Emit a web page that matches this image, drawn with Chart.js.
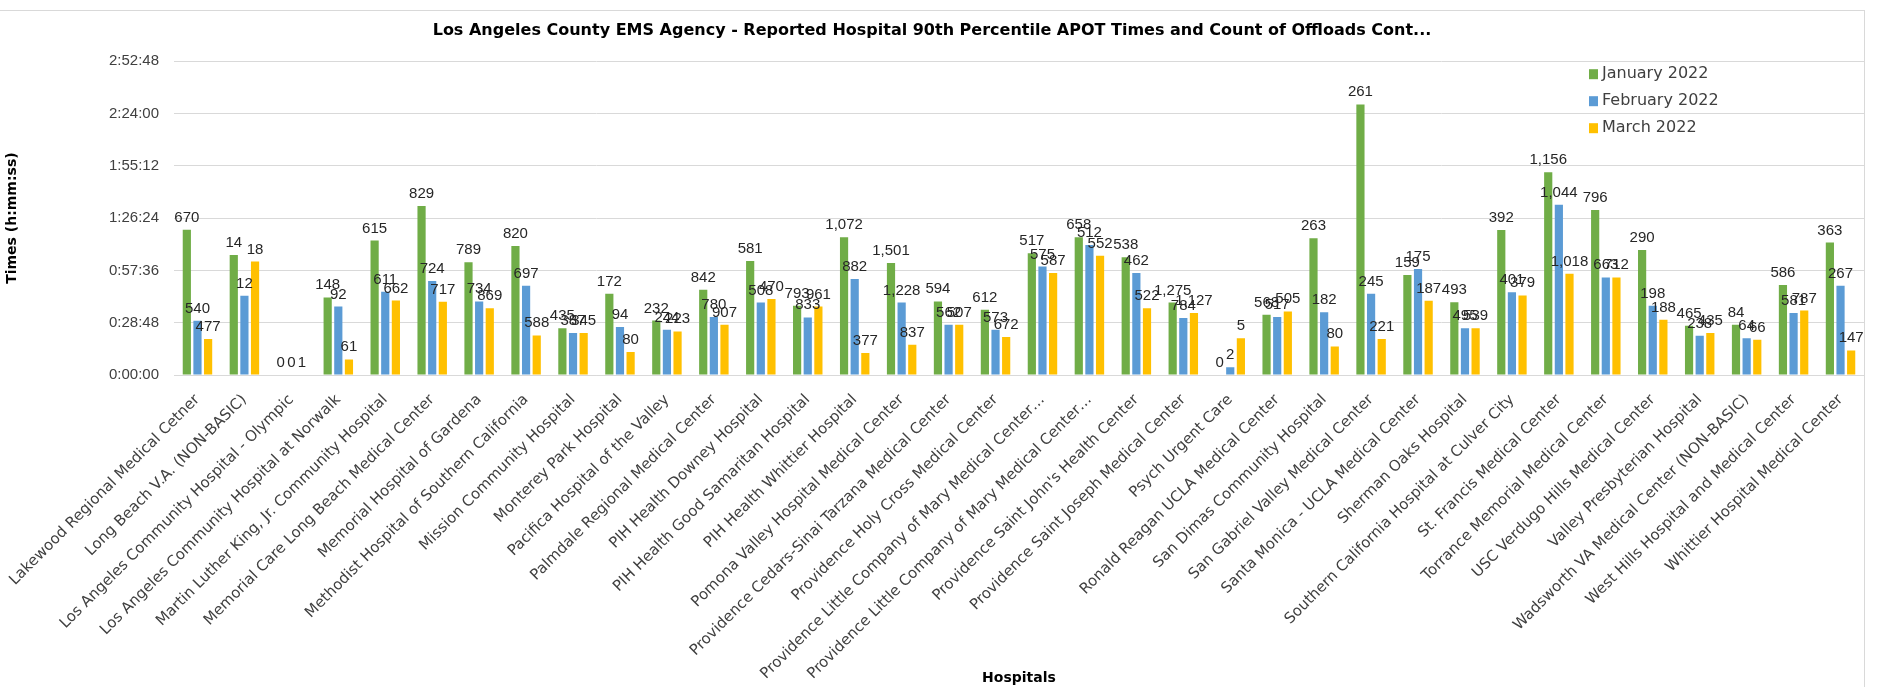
<!DOCTYPE html>
<html>
<head>
<meta charset="utf-8">
<script src="https://cdn.jsdelivr.net/npm/chart.js@4/dist/chart.umd.min.js"></script>
<style>
  html, body { margin: 0; padding: 0; background: #ffffff; overflow: hidden; }
  #frame { position: absolute; left: 0; top: 10px; width: 1864px; height: 676px;
           border-top: 1px solid #d9d9d9; border-right: 1px solid #d9d9d9; }
  canvas { display: block; }
</style>
</head>
<body>
<div id="frame"><canvas id="c" width="1864" height="676"></canvas></div>
<script>
// ---- Data (bar heights in minutes; labels are offload counts) ----
const hospitals = [
  "Lakewood Regional Medical Cetner",
  "Long Beach V.A. (NON-BASIC)",
  "Los Angeles Community Hospital - Olympic",
  "Los Angeles Community Hospital at Norwalk",
  "Martin Luther King, Jr. Community Hospital",
  "Memorial Care Long Beach Medical Center",
  "Memorial Hospital of Gardena",
  "Methodist Hospital of Southern California",
  "Mission Community Hospital",
  "Monterey Park Hospital",
  "Pacifica Hospital of the Valley",
  "Palmdale Regional Medical Center",
  "PIH Health Downey Hospital",
  "PIH Health Good Samaritan Hospital",
  "PIH Health Whittier Hospital",
  "Pomona Valley Hospital Medical Center",
  "Providence Cedars-Sinai Tarzana Medical Center",
  "Providence Holy Cross Medical Center",
  "Providence Little Company of Mary Medical Center…",
  "Providence Little Company of Mary Medical Center…",
  "Providence Saint John's Health Center",
  "Providence Saint Joseph Medical Center",
  "Psych Urgent Care",
  "Ronald Reagan UCLA Medical Center",
  "San Dimas Community Hospital",
  "San Gabriel Valley Medical Center",
  "Santa Monica - UCLA Medical Center",
  "Sherman Oaks Hospital",
  "Southern California Hospital at Culver City",
  "St. Francis Medical Center",
  "Torrance Memorial Medical Center",
  "USC Verdugo Hills Medical Center",
  "Valley Presbyterian Hospital",
  "Wadsworth VA Medical Center (NON-BASIC)",
  "West Hills Hospital and Medical Center",
  "Whittier Hospital Medical Center"
];

const seriesNames = ["January 2022", "February 2022", "March 2022"];

// 90th percentile APOT times, in minutes
const janTimes = [80.0, 66.1, 0, 42.7, 74.0, 93.1, 62.1, 71.1, 25.8, 44.7, 30.0, 46.9, 62.8, 38.1, 75.9, 61.7, 40.5, 35.9, 67.1, 75.9, 64.9, 39.9, 0, 33.2, 75.3, 149.0, 55.1, 40.1, 79.9, 111.6, 90.9, 68.9, 27.1, 27.7, 49.6, 72.9];
const febTimes = [29.9, 43.6, 0, 37.7, 45.8, 51.8, 40.5, 49.1, 23.1, 26.4, 24.9, 31.9, 39.9, 31.7, 52.9, 39.9, 27.7, 24.9, 59.7, 71.6, 56.1, 31.4, 4.2, 31.9, 34.6, 44.7, 58.4, 25.8, 45.6, 93.8, 53.7, 38.1, 21.6, 20.3, 34.1, 49.1];
const marTimes = [19.8, 62.5, 0, 8.6, 41.0, 40.3, 36.8, 21.8, 23.1, 12.6, 24.0, 27.7, 41.8, 37.7, 12.1, 16.7, 27.7, 20.9, 56.1, 65.6, 36.8, 34.1, 20.3, 35.0, 15.7, 19.8, 40.9, 25.8, 43.8, 55.7, 53.7, 30.4, 23.1, 19.4, 35.5, 13.5];

// Count of offloads (data labels)
const janCounts = [670, 14, 0, 148, 615, 829, 789, 820, 435, 172, 232, 842, 581, 793, 1072, 1501, 594, 612, 517, 658, 538, 1275, 0, 568, 263, 261, 159, 493, 392, 1156, 796, 290, 465, 84, 586, 363];
const febCounts = [540, 12, 0, 92, 611, 724, 734, 697, 387, 94, 244, 780, 508, 833, 882, 1228, 562, 573, 575, 512, 462, 784, 2, 517, 182, 245, 175, 495, 401, 1044, 663, 198, 238, 64, 581, 267];
const marCounts = [477, 18, 1, 61, 662, 717, 869, 588, 345, 80, 223, 907, 470, 961, 377, 837, 507, 672, 587, 552, 522, 1127, 5, 505, 80, 221, 187, 539, 379, 1018, 712, 188, 435, 66, 787, 147];

// y-axis ticks (minutes): 0:00:00 ... 2:52:48
const yTicksMinutes = [0, 28.8, 57.6, 86.4, 115.2, 144.0, 172.8];

const colors = ["#70AD47", "#5B9BD5", "#FFC000"];

function fmtTime(min) {
  const s = Math.round(min * 60);
  const h = Math.floor(s / 3600);
  const m = Math.floor((s % 3600) / 60);
  const sec = s % 60;
  return h + ":" + String(m).padStart(2, "0") + ":" + String(sec).padStart(2, "0");
}

const dataLabels = {
  id: "dataLabels",
  afterDatasetsDraw(chart) {
    const ctx = chart.ctx;
    ctx.save();
    ctx.font = "15px 'Liberation Sans', Arial, sans-serif";
    ctx.fillStyle = "#262626";
    ctx.textAlign = "center";
    ctx.textBaseline = "alphabetic";
    chart.data.datasets.forEach((ds, i) => {
      const meta = chart.getDatasetMeta(i);
      meta.data.forEach((bar, j) => {
        const v = ds.counts[j];
        ctx.fillText(v.toLocaleString("en-US"), bar.x, bar.y - 8);
      });
    });
    ctx.restore();
  }
};

const innerLegend = {
  id: "innerLegend",
  afterDraw(chart) {
    const ctx = chart.ctx;
    const a = chart.chartArea;
    const x0 = a.right - 275;
    const y0 = a.top + 13;
    ctx.save();
    ctx.font = "16px 'DejaVu Sans', sans-serif";
    ctx.textBaseline = "middle";
    ctx.textAlign = "left";
    chart.data.datasets.forEach((ds, i) => {
      const y = y0 + i * 27;
      ctx.fillStyle = ds.backgroundColor;
      ctx.fillRect(x0, y - 5, 9, 10);
      ctx.fillStyle = "#404040";
      ctx.fillText(ds.label, x0 + 13, y);
    });
    ctx.restore();
  }
};

const chart = new Chart(document.getElementById("c"), {
  type: "bar",
  data: {
    labels: hospitals,
    datasets: [
      { label: seriesNames[0], data: janTimes, counts: janCounts, backgroundColor: colors[0] },
      { label: seriesNames[1], data: febTimes, counts: febCounts, backgroundColor: colors[1] },
      { label: seriesNames[2], data: marTimes, counts: marCounts, backgroundColor: colors[2] }
    ]
  },
  options: {
    responsive: false,
    animation: false,
    devicePixelRatio: 1,
    layout: { padding: 0 },
    datasets: { bar: { categoryPercentage: 0.68, barPercentage: 0.77, borderWidth: 0 } },
    plugins: {
      legend: { display: false },
      tooltip: { enabled: false },
      title: {
        display: true,
        text: "Los Angeles County EMS Agency - Reported Hospital 90th Percentile APOT Times and Count of Offloads Cont...",
        color: "#000000",
        font: { family: "'DejaVu Sans', sans-serif", size: 16, weight: "bold", lineHeight: 1.2 },
        padding: { top: 10, bottom: 21 }
      }
    },
    scales: {
      x: {
        grid: { display: false, drawTicks: false },
        border: { display: true, color: "#d9d9d9", width: 1 },
        ticks: {
          autoSkip: false,
          maxRotation: 45,
          minRotation: 45,
          padding: 16,
          color: "#404040",
          font: { family: "'DejaVu Sans', sans-serif", size: 15 }
        },
        title: {
          display: true,
          text: "Hospitals",
          color: "#000000",
          font: { family: "'DejaVu Sans', sans-serif", size: 14, weight: "bold", lineHeight: 1.2 },
          padding: 0
        },
        afterFit(scale) {
          scale.height = 312;
          scale.paddingLeft = 0;
          scale.paddingRight = 0;
        }
      },
      y: {
        min: 0,
        max: yTicksMinutes[yTicksMinutes.length - 1],
        afterBuildTicks(scale) { scale.ticks = yTicksMinutes.map(v => ({ value: v })); },
        grid: { color: "#d9d9d9", lineWidth: 1, drawTicks: false },
        border: { display: false },
        ticks: {
          padding: 15,
          color: "#404040",
          font: { family: "'Liberation Sans', Arial, sans-serif", size: 15 },
          callback: (v) => fmtTime(v)
        },
        title: {
          display: true,
          text: "Times (h:mm:ss)",
          color: "#000000",
          font: { family: "'DejaVu Sans', sans-serif", size: 14, weight: "bold", lineHeight: 1.2 },
          padding: { top: 4, bottom: 0 }
        },
        afterFit(scale) {
          scale.width = 174;
          scale.paddingTop = 0;
          scale.paddingBottom = 0;
        }
      }
    }
  },
  plugins: [dataLabels, innerLegend]
});
</script>
</body>
</html>
